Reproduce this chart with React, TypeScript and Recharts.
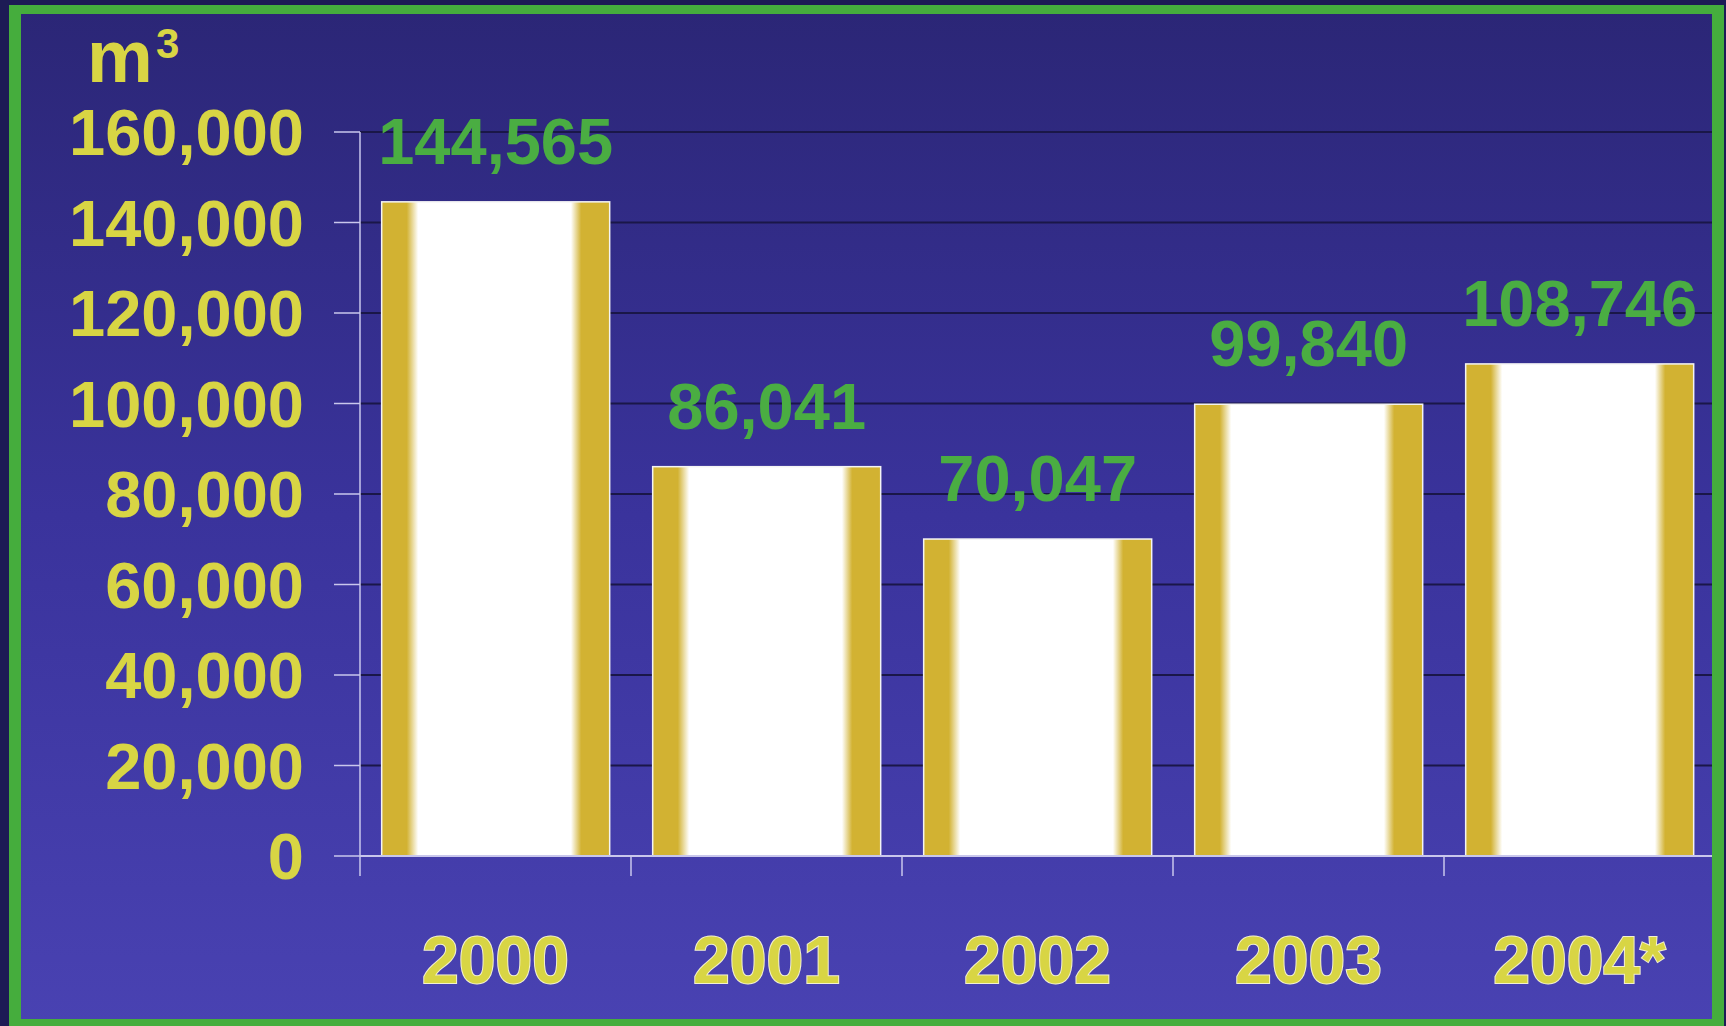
import { BarChart, Bar, XAxis, YAxis, CartesianGrid, LabelList } from 'recharts';

const years = ['2000', '2001', '2002', '2003', '2004*'];
const volumes = [144565, 86041, 70047, 99840, 108746];
const yTicks = [0, 20000, 40000, 60000, 80000, 100000, 120000, 140000, 160000];

const data = years.map((year, i) => ({ year, volume: volumes[i] }));

const W = 1726;
const H = 1026;
const PLOT_LEFT = 360;
const PLOT_RIGHT = 1715;
const BAND = (PLOT_RIGHT - PLOT_LEFT) / years.length;

const FONT = '"Liberation Sans", Arial, Helvetica, sans-serif';
const YELLOW = '#d8d544';
const GREEN = '#4aad42';
const GOLD = '#d2b232';
const AXIS = '#c9c7ec';

const fmt = (v: number) => v.toLocaleString('en-US');

function BarShape(props: any) {
	const { x, y, width, height, index } = props;
	const id = `barfill-${index}`;
	return (
		<g>
			<defs>
				<linearGradient id={id} x1="0" y1="0" x2="1" y2="0">
					<stop offset="0" stopColor={GOLD} />
					<stop offset="0.11" stopColor={GOLD} />
					<stop offset="0.16" stopColor="#ffffff" />
					<stop offset="0.83" stopColor="#ffffff" />
					<stop offset="0.875" stopColor={GOLD} />
					<stop offset="1" stopColor={GOLD} />
				</linearGradient>
			</defs>
			<rect x={x} y={y} width={width} height={height} fill={`url(#${id})`} stroke="#f4f4f4" strokeWidth={1.5} />
		</g>
	);
}

function YearTick(props: any) {
	const { x, y, payload } = props;
	const lineX = x - BAND / 2;
	return (
		<g>
			<line x1={lineX} y1={y - 20} x2={lineX} y2={y} stroke={AXIS} strokeWidth={1.5} />
			<text
				x={x}
				y={y + 107}
				textAnchor="middle"
				fill={YELLOW}
				stroke="#f2f0d0"
				strokeWidth={2}
				paintOrder="stroke"
				fontFamily={FONT}
				fontWeight="bold"
				fontSize={66}
			>
				{payload.value}
			</text>
		</g>
	);
}

export default function App() {
	return (
		<div style={{ position: 'absolute', left: 0, top: 0, width: W, height: H, overflow: 'hidden', background: '#1d1b55' }}>
			{/* panel background */}
			<div
				style={{
					position: 'absolute',
					left: 9,
					top: 5,
					width: 1715,
					height: 1021,
					background: 'linear-gradient(to bottom, #2b2676 0%, #3a339c 50%, #4942b2 100%)',
				}}
			/>

			<div style={{ position: 'absolute', left: 0, top: 0 }}>
				<BarChart
					width={W}
					height={H}
					data={data}
					margin={{ top: 132, right: W - PLOT_RIGHT, bottom: 0, left: 0 }}
					barCategoryGap="8%"
				>
					<CartesianGrid horizontal vertical={false} stroke="#1a1748" strokeWidth={2} />
					<XAxis
						dataKey="year"
						height={170}
						tickLine={false}
						tickSize={20}
						tickMargin={0}
						axisLine={{ stroke: AXIS, strokeWidth: 2 }}
						tick={<YearTick />}
						interval={0}
					/>
					<YAxis
						width={PLOT_LEFT}
						domain={[0, 160000]}
						ticks={yTicks}
						tickFormatter={fmt}
						tickSize={26}
						tickMargin={30}
						axisLine={{ stroke: AXIS, strokeWidth: 1.5 }}
						tickLine={{ stroke: AXIS, strokeWidth: 1.5 }}
						tick={{ fill: YELLOW, fontSize: 65, fontWeight: 'bold', fontFamily: FONT }}
					/>
					<Bar dataKey="volume" shape={<BarShape />} isAnimationActive={false}>
						<LabelList
							dataKey="volume"
							position="top"
							offset={38}
							formatter={(v: any) => fmt(Number(v))}
							fill={GREEN}
							fontSize={65}
							fontWeight="bold"
							fontFamily={FONT}
						/>
					</Bar>
				</BarChart>
			</div>

			{/* unit label */}
			<svg width={300} height={100} style={{ position: 'absolute', left: 0, top: 0 }}>
				<text x={87} y={82} fill={YELLOW} fontFamily={FONT} fontWeight="bold" fontSize={74}>
					m
				</text>
				<text x={156} y={58} fill={YELLOW} fontFamily={FONT} fontWeight="bold" fontSize={42}>
					3
				</text>
			</svg>

			{/* green frame */}
			<div
				style={{
					position: 'absolute',
					left: 9,
					top: 5,
					width: 1715,
					height: 1021,
					boxSizing: 'border-box',
					borderStyle: 'solid',
					borderColor: '#45ad3d',
					borderWidth: '9px 12px 7px 12px',
					pointerEvents: 'none',
				}}
			/>
		</div>
	);
}
